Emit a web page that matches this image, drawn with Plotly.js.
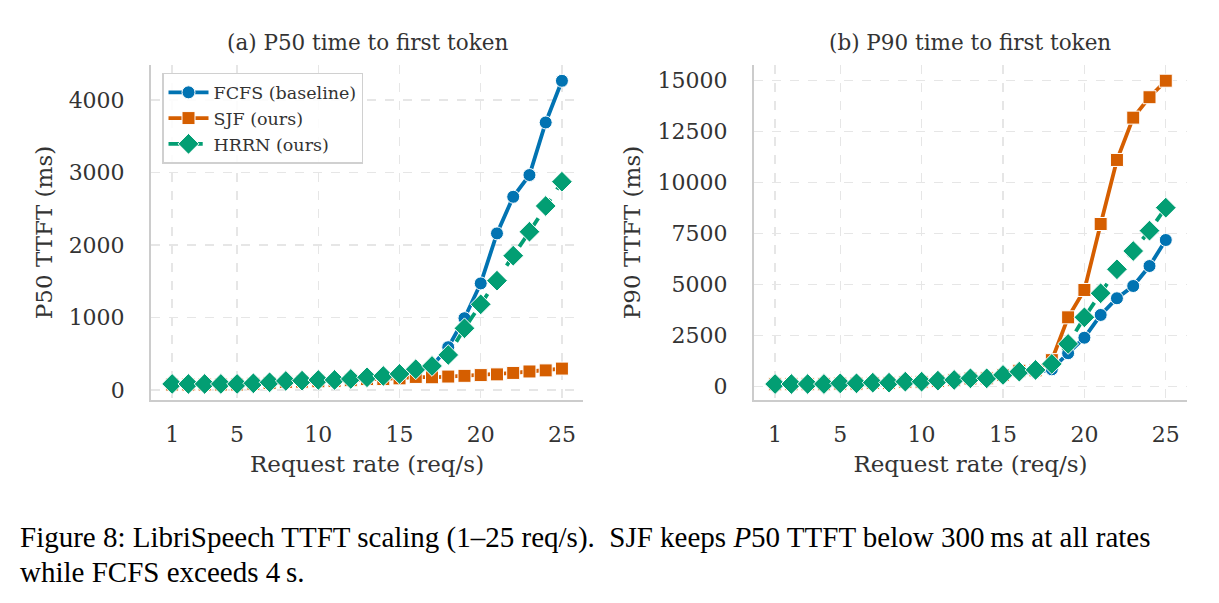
<!DOCTYPE html>
<html>
<head>
<meta charset="utf-8">
<script src="https://cdn.plot.ly/plotly-3.0.1.min.js"></script>
<style>html,body{margin:0;padding:0;background:#fff;}#chart{width:1219px;height:603px;}</style>
</head>
<body>
<div id="chart"></div>
<script>
// Request rates (req/s)
const rates = [1,2,3,4,5,6,7,8,9,10,11,12,13,14,15,16,17,18,19,20,21,22,23,24,25];

// (a) P50 TTFT (ms)
const p50_fcfs = [80,80,80,80,80,90,105,120,125,135,135,150,170,190,220,280,330,590,990,1470,2160,2665,2965,3690,4265];
const p50_sjf  = [75,75,75,75,75,85,95,110,115,120,125,135,150,150,160,180,175,185,195,205,215,235,255,270,295];
const p50_hrrn = [83,83,83,83,83,92,106,124,128,138,138,152,175,193,221,286,331,483,851,1182,1508,1852,2183,2538,2873];

// (b) P90 TTFT (ms)
const p90_fcfs = [130,130,130,130,160,160,190,190,240,240,290,320,400,400,560,700,700,850,1640,2400,3515,4335,4935,5915,7190];
const p90_sjf  = [120,120,120,120,150,150,180,185,230,235,280,320,400,410,570,780,800,1300,3400,4740,7975,11115,13190,14190,15000];
const p90_hrrn = [130,130,130,130,165,165,195,195,245,245,295,330,410,410,575,735,820,1115,2095,3400,4580,5755,6650,7650,8775];

const xTicks = [1,5,10,15,20,25];
const p50Ticks = [0,1000,2000,3000,4000];
const p90Ticks = [0,2500,5000,7500,10000,12500,15000];

const names = ['FCFS (baseline)','SJF (ours)','HRRN (ours)'];
const colors = ['#0173b2','#d55e00','#029e73'];
const symbols = ['circle','square','diamond'];
const msizes = [13,13,16];
const dashes = ['solid','solid','dash'];

function mk(y, i, xa, ya, show){
  return {
    x: rates, y: y, type:'scatter', mode:'lines+markers', name: names[i],
    xaxis: xa, yaxis: ya, showlegend: show, legendgroup: names[i],
    line:{color:colors[i], width:3.8, dash:dashes[i]},
    marker:{symbol:symbols[i], size:msizes[i], color:colors[i], line:{color:'#ffffff', width:1}}
  };
}

const data = [
  mk(p50_fcfs,0,'x','y',true), mk(p50_sjf,1,'x','y',true), mk(p50_hrrn,2,'x','y',true),
  mk(p90_fcfs,0,'x2','y2',false), mk(p90_sjf,1,'x2','y2',false), mk(p90_hrrn,2,'x2','y2',false)
];

const FONT = 'DejaVu Serif';
const TXT = '#333333';
function xax(domain, anchor){
  return {
    domain: domain, anchor: anchor, range:[-0.3,26.3],
    tickvals: xTicks, ticktext: xTicks.map(String),
    showline:true, linecolor:'#cccccc', linewidth:2, mirror:false,
    showgrid:true, gridcolor:'#e6e6e6', griddash:'dash', gridwidth:1.3, zeroline:false,
    ticks:'', ticklabelstandoff:14,
    tickfont:{family:FONT, size:22, color:TXT},
    title:{text:'Request rate (req/s)', font:{family:FONT, size:23, color:TXT}, standoff:10}
  };
}
function yax(domain, anchor, range, ticks, title){
  return {
    domain: domain, anchor: anchor, range: range,
    tickvals: ticks, ticktext: ticks.map(String),
    showline:true, linecolor:'#cccccc', linewidth:2,
    showgrid:true, gridcolor:'#e6e6e6', griddash:'dash', gridwidth:1.3, zeroline:false,
    ticks:'', ticklabelstandoff:20,
    tickfont:{family:FONT, size:22, color:TXT},
    title:{text:title, font:{family:FONT, size:23, color:TXT}, standoff:10}
  };
}

const yDom = [0.3367, 0.8922];
const layout = {
  width:1219, height:603,
  margin:{l:0,r:0,t:0,b:0},
  paper_bgcolor:'#ffffff', plot_bgcolor:'#ffffff',
  font:{family:FONT, color:TXT},
  xaxis: xax([0.1239,0.4783],'y'),
  yaxis: yax(yDom,'x',[-138,4483],p50Ticks,'P50 TTFT (ms)'),
  xaxis2: xax([0.6185,0.9737],'y2'),
  yaxis2: yax(yDom,'x2',[-652,15770],p90Ticks,'P90 TTFT (ms)'),
  showlegend:true,
  legend:{
    x:0.1329, y:0.879, xanchor:'left', yanchor:'top',
    bgcolor:'rgba(255,255,255,0.85)', bordercolor:'#d0d0d0', borderwidth:1.5,
    font:{family:FONT, size:17.5, color:TXT}, tracegroupgap:0, itemwidth:40
  },
  annotations:[
    {text:'(a) P50 time to first token', xref:'paper', yref:'paper', x:0.3011, y:0.930, xanchor:'center', yanchor:'middle', showarrow:false, font:{family:FONT, size:21.5, color:TXT}},
    {text:'(b) P90 time to first token', xref:'paper', yref:'paper', x:0.7961, y:0.930, xanchor:'center', yanchor:'middle', showarrow:false, font:{family:FONT, size:21.5, color:TXT}},
    {text:'Figure 8: LibriSpeech TTFT scaling (1–25 req/s).  SJF keeps <i>P</i>50 TTFT below 300\u2009ms at all rates', xref:'paper', yref:'paper', x:0.0148, y:(603-537)/603, xanchor:'left', yanchor:'middle', showarrow:false, font:{family:'Liberation Serif', size:29, color:'#000000'}},
    {text:'while FCFS exceeds 4\u2009s.', xref:'paper', yref:'paper', x:0.0148, y:(603-572)/603, xanchor:'left', yanchor:'middle', showarrow:false, font:{family:'Liberation Serif', size:29, color:'#000000'}}
  ]
};

Plotly.newPlot('chart', data, layout, {staticPlot:true, displayModeBar:false});
</script>
</body>
</html>
